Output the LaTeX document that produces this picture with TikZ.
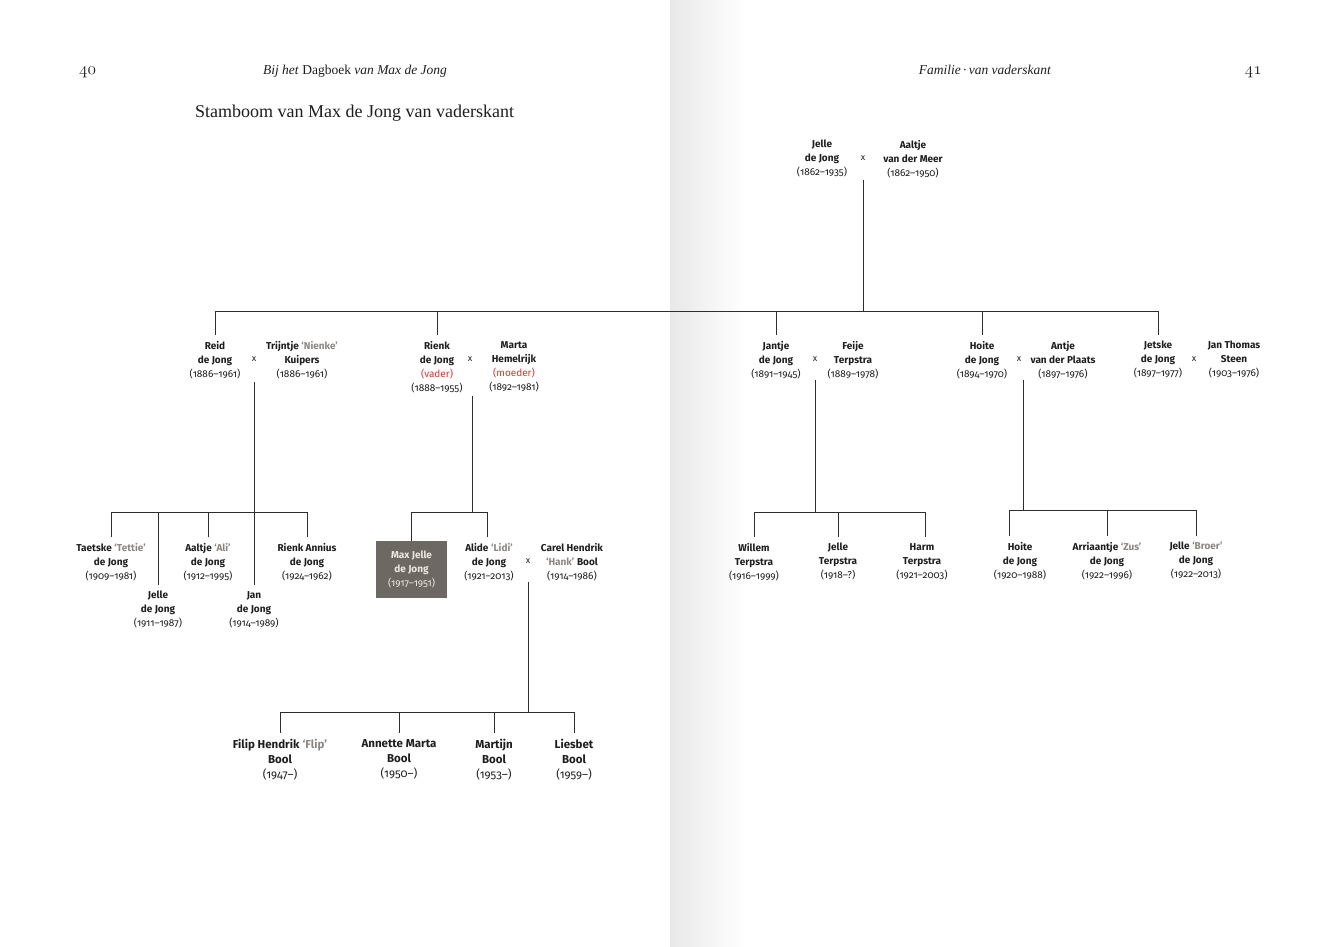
\documentclass[tikz,border=0pt]{standalone}
\usepackage{fontspec}
\setsansfont[Numbers=OldStyle]{Fira Sans}
\newfontfamily\hdfont{Liberation Serif}
\usetikzlibrary{calc}
\definecolor{ink}{HTML}{1E1E1E}
\definecolor{linec}{HTML}{2E2E2E}
\definecolor{nickc}{HTML}{8C8782}
\definecolor{redc}{HTML}{E2322A}
\definecolor{boxc}{HTML}{6E6862}
\definecolor{boxt}{HTML}{EDE8E2}
\newcommand\nm[1]{\textbf{#1}}
\newcommand\nick[1]{\textcolor{nickc}{\textbf{#1}}}
\newcommand\rd[1]{\textcolor{redc}{#1}}
\tikzset{
  pers/.style={align=center, anchor=north, inner sep=0pt, text=ink,
    font=\sffamily\fontsize{10}{14}\selectfont},
  bigpers/.style={pers, font=\sffamily\fontsize{11.5}{15}\selectfont},
  xsign/.style={inner sep=0pt, text=ink, font=\sffamily\fontsize{9}{10}\selectfont},
  tree/.style={draw=linec, line width=1pt},
  hdr/.style={inner sep=0pt, text=ink, font=\hdfont\fontsize{13.5}{15}\selectfont},
}
\begin{document}
\begin{tikzpicture}[x=1pt,y=-1pt]
\useasboundingbox (0,0) rectangle (1340,946);
\fill[white] (0,0) rectangle (1340,946);
\shade[left color=black!9, right color=white, draw=none] (670,0) rectangle (745,946);

% headers
\node[hdr, anchor=base west, font=\fontsize{18}{18}\selectfont] (p40) at (79,74) {$\mathnormal{40}$};
\node[hdr, anchor=base] (hl) at (355,74) {\textit{Bij het} Dagboek \textit{van Max de Jong}};
\node[hdr, anchor=base] (hr) at (985,74) {\textit{Familie\,·\,van vaderskant}};
\node[hdr, anchor=base east, font=\fontsize{18}{18}\selectfont] (p41) at (1262,74) {$\mathnormal{41}$};
\node[hdr, anchor=base west, font=\hdfont\fontsize{18}{20}\selectfont] (title) at (195,117) {Stamboom van Max de Jong van vaderskant};

% generation 1
\node[pers] (jelle0) at (822,140) {\nm{Jelle}\\\nm{de Jong}\\(1862–1935)};
\node[xsign] (m0) at (863,158) {x};
\node[pers] (aaltje0) at (913,140) {\nm{Aaltje}\\\nm{van der Meer}\\(1862–1950)};

% generation 2
\node[pers] (reid) at (215,341) {\nm{Reid}\\\nm{de Jong}\\(1886–1961)};
\node[xsign] (m1) at (254,359) {x};
\node[pers] (trijntje) at (302,341) {\nm{Trijntje} \nick{‘Nienke’}\\\nm{Kuipers}\\(1886–1961)};

\node[pers] (rienk) at (437,341) {\nm{Rienk}\\\nm{de Jong}\\\rd{(vader)}\\(1888–1955)};
\node[xsign] (m2) at (470,359) {x};
\node[pers] (marta) at (514,341) {\nm{Marta}\\\nm{Hemelrijk}\\\rd{(moeder)}\\(1892–1981)};

\node[pers] (jantje) at (776,341) {\nm{Jantje}\\\nm{de Jong}\\(1891–1945)};
\node[xsign] (m3) at (815,359) {x};
\node[pers] (feije) at (853,341) {\nm{Feije}\\\nm{Terpstra}\\(1889–1978)};

\node[pers] (hoite) at (982,341) {\nm{Hoite}\\\nm{de Jong}\\(1894–1970)};
\node[xsign] (m4) at (1019,359) {x};
\node[pers] (antje) at (1063,341) {\nm{Antje}\\\nm{van der Plaats}\\(1897–1976)};

\node[pers] (jetske) at (1158,341) {\nm{Jetske}\\\nm{de Jong}\\(1897–1977)};
\node[xsign] (m5) at (1194,359) {x};
\node[pers] (steen) at (1234,341) {\nm{Jan Thomas}\\\nm{Steen}\\(1903–1976)};

% generation 3, Reid
\node[pers] (taetske) at (111,543) {\nm{Taetske} \nick{‘Tettie’}\\\nm{de Jong}\\(1909–1981)};
\node[pers] (jelle1) at (158,591) {\nm{Jelle}\\\nm{de Jong}\\(1911–1987)};
\node[pers] (aaltje1) at (208,543) {\nm{Aaltje} \nick{‘Ali’}\\\nm{de Jong}\\(1912–1995)};
\node[pers] (jan1) at (254,591) {\nm{Jan}\\\nm{de Jong}\\(1914–1989)};
\node[pers] (rienka) at (307,543) {\nm{Rienk Annius}\\\nm{de Jong}\\(1924–1962)};

% generation 3, Rienk
\node[fill=boxc, minimum width=71pt, minimum height=57pt, inner sep=0pt, anchor=north,
      align=center, text=boxt, font=\sffamily\fontsize{10}{14}\selectfont] (max) at (411.5,541)
      {\nm{Max Jelle}\\\nm{de Jong}\\(1917–1951)};
\node[pers] (alide) at (489,543) {\nm{Alide} \nick{‘Lidi’}\\\nm{de Jong}\\(1921–2013)};
\node[xsign] (m6) at (528,561) {x};
\node[pers] (carel) at (572,543) {\nm{Carel Hendrik}\\\nick{‘Hank’} \nm{Bool}\\(1914–1986)};

% generation 3, Jantje
\node[pers] (willem) at (754,543) {\nm{Willem}\\\nm{Terpstra}\\(1916–1999)};
\node[pers] (jelleT) at (838,543) {\nm{Jelle}\\\nm{Terpstra}\\(1918–?)};
\node[pers] (harm) at (922,543) {\nm{Harm}\\\nm{Terpstra}\\(1921–2003)};

% generation 3, Hoite
\node[pers] (hoite2) at (1020,542) {\nm{Hoite}\\\nm{de Jong}\\(1920–1988)};
\node[pers] (arri) at (1107,542) {\nm{Arriaantje} \nick{‘Zus’}\\\nm{de Jong}\\(1922–1996)};
\node[pers] (jelleB) at (1196,542) {\nm{Jelle} \nick{‘Broer’}\\\nm{de Jong}\\(1922–2013)};

% generation 4
\node[bigpers] (filip) at (280,739) {\nm{Filip Hendrik} \nick{‘Flip’}\\\nm{Bool}\\(1947–)};
\node[bigpers] (annette) at (399,739) {\nm{Annette Marta}\\\nm{Bool}\\(1950–)};
\node[bigpers] (martijn) at (494,739) {\nm{Martijn}\\\nm{Bool}\\(1953–)};
\node[bigpers] (liesbet) at (574,739) {\nm{Liesbet}\\\nm{Bool}\\(1959–)};

% junction coordinates
\coordinate (t0) at (863,180);
\coordinate (b0) at (863,311);
\coordinate (t1) at (254,382);
\coordinate (b1) at (254,512);
\coordinate (t2) at (472,396);
\coordinate (b2) at (472,512);
\coordinate (t3) at (815,380);
\coordinate (b3) at (815,512);
\coordinate (t4) at (1023,380);
\coordinate (b4) at (1023,510);
\coordinate (t6) at (528,582);
\coordinate (b6) at (528,712);

% connectors
\draw[tree] (t0) -- (b0);
\draw[tree] (reid.north |- b0) -- (jetske.north |- b0);
\foreach \c in {reid,rienk,jantje,hoite,jetske}
  \draw[tree] (\c.north |- b0) -- ([yshift=6pt]\c.north);

\draw[tree] (t1) -- ([yshift=6pt]jan1.north);
\draw[tree] (taetske.north |- b1) -- (rienka.north |- b1);
\foreach \c in {taetske,jelle1,aaltje1,rienka}
  \draw[tree] (\c.north |- b1) -- ([yshift=6pt]\c.north);

\draw[tree] (t2) -- (b2);
\draw[tree] (max.north |- b2) -- ([xshift=-2pt]alide.north |- b2);
\draw[tree] (max.north |- b2) -- (max.north);
\draw[tree] ([xshift=-2pt]alide.north |- b2) -- ([xshift=-2pt,yshift=6pt]alide.north);

\draw[tree] (t3) -- (b3);
\draw[tree] (willem.north |- b3) -- ([xshift=3pt]harm.north |- b3);
\draw[tree] (willem.north |- b3) -- ([yshift=6pt]willem.north);
\draw[tree] (jelleT.north |- b3) -- ([yshift=6pt]jelleT.north);
\draw[tree] ([xshift=3pt]harm.north |- b3) -- ([xshift=3pt,yshift=6pt]harm.north);

\draw[tree] (t4) -- (b4);
\draw[tree] ([xshift=-11pt]hoite2.north |- b4) -- (jelleB.north |- b4);
\draw[tree] ([xshift=-11pt]hoite2.north |- b4) -- ([xshift=-11pt,yshift=6pt]hoite2.north);
\draw[tree] (arri.north |- b4) -- ([yshift=6pt]arri.north);
\draw[tree] (jelleB.north |- b4) -- ([yshift=6pt]jelleB.north);

\draw[tree] (t6) -- (b6);
\draw[tree] (filip.north |- b6) -- (liesbet.north |- b6);
\foreach \c in {filip,annette,martijn,liesbet}
  \draw[tree] (\c.north |- b6) -- ([yshift=6pt]\c.north);
\end{tikzpicture}
\end{document}
